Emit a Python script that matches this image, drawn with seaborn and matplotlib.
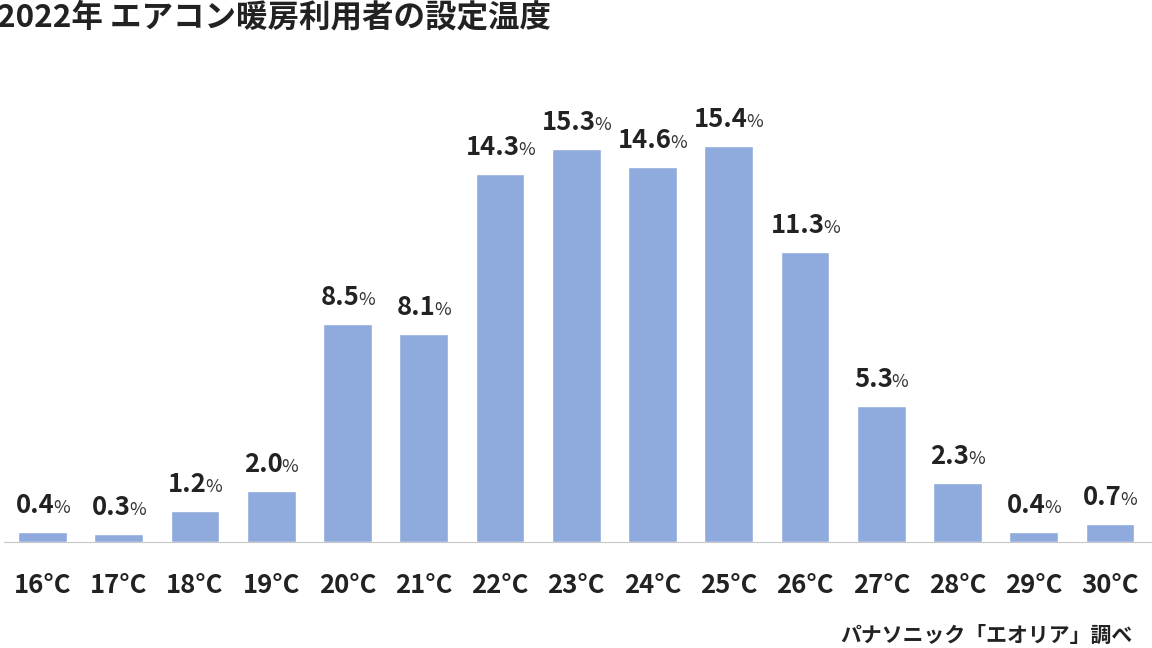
import matplotlib
matplotlib.use("Agg")
import matplotlib.pyplot as plt
import seaborn as sns
import pandas as pd

categories = ["16°C", "17°C", "18°C", "19°C", "20°C", "21°C", "22°C", "23°C",
              "24°C", "25°C", "26°C", "27°C", "28°C", "29°C", "30°C"]
values = [0.4, 0.3, 1.2, 2.0, 8.5, 8.1, 14.3, 15.3, 14.6, 15.4, 11.3, 5.3, 2.3, 0.4, 0.7]
title = "2022年 エアコン暖房利用者の設定温度"
source = "パナソニック「エオリア」調べ"

sns.set_theme(style="white")
plt.rcParams['font.family'] = ['Noto Sans CJK JP', 'DejaVu Sans']

W, H = 1152, 648
fig = plt.figure(figsize=(W / 100, H / 100), dpi=100)
ax = fig.add_axes([4 / W, (H - 542) / H, 1148 / W, (542 - 60) / H])

df = pd.DataFrame({"temp": categories, "value": values})
sns.barplot(data=df, x="temp", y="value", color="#8FAADC", saturation=1,
            width=0.64, ax=ax)

ax.set_xlim(-0.505, 14.55)
ax.set_ylim(0, (542 - 60) / 25.7)
for s in ["top", "right", "left"]:
    ax.spines[s].set_visible(False)
ax.spines["bottom"].set_color("#c8c8c8")
ax.spines["bottom"].set_linewidth(0.8)
ax.spines["bottom"].set_linestyle((0, (1, 1)))
ax.set_yticks([])
ax.set_xlabel("")
ax.set_ylabel("")
ax.tick_params(axis="x", length=0, pad=21.5, labelsize=18.5, labelcolor="#222222")
for t in ax.get_xticklabels():
    t.set_fontweight("bold")

fig.canvas.draw()
renderer = fig.canvas.get_renderer()
pairs = []
for i, v in enumerate(values):
    num = ax.annotate(f"{v:.1f}", xy=(i, v), xytext=(0, 19), textcoords="offset pixels",
                      ha="left", va="baseline", fontsize=18.5, fontweight="bold",
                      color="#222222")
    pct = ax.annotate("%", xy=(i, v), xytext=(0, 19), textcoords="offset pixels",
                      ha="left", va="baseline", fontsize=13, color="#333333")
    pairs.append((num, pct))
fig.canvas.draw()
gap = -1.5
for num, pct in pairs:
    wn = num.get_window_extent(renderer).width
    wp = pct.get_window_extent(renderer).width
    total = wn + gap + wp
    num.set_position((-total / 2, 19))
    pct.set_position((-total / 2 + wn + gap, 19))

fig.text(-3 / W, 1 - 17 / H, title, ha="left", va="center", fontsize=22.7,
         fontweight="bold", color="#222222")
fig.text(1133 / W, 1 - 635 / H, source, ha="right", va="center", fontsize=15,
         fontweight="bold", color="#222222")

fig.savefig("out.png", dpi=100)
